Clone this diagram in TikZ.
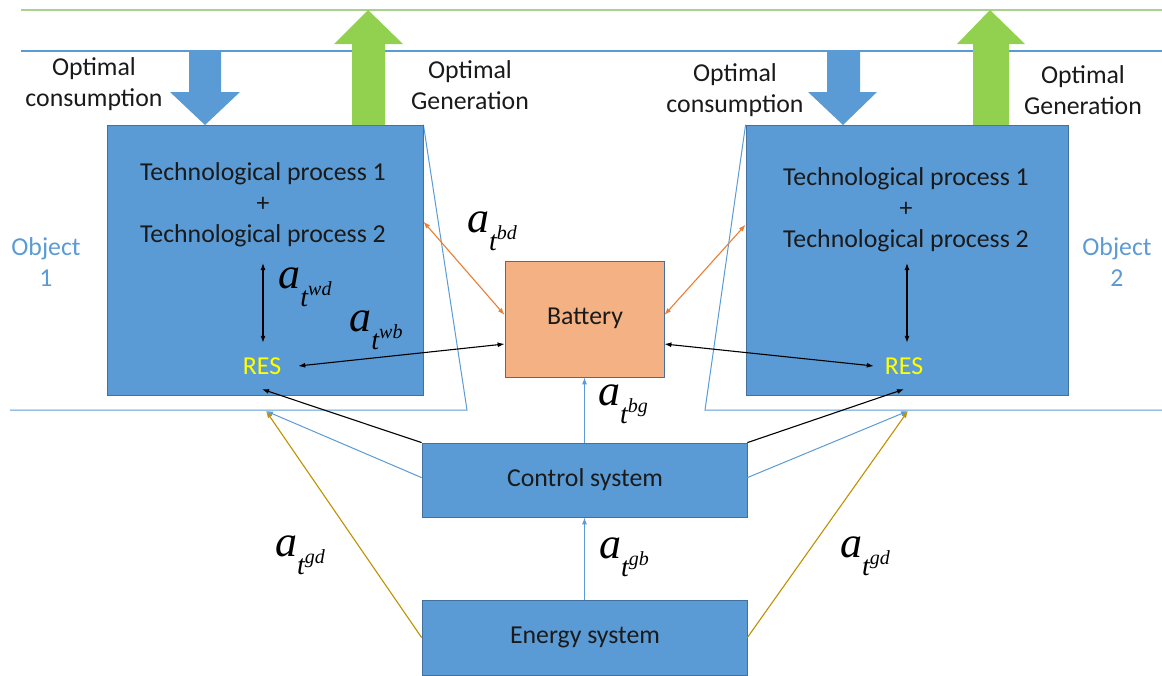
\documentclass[tikz,border=0pt]{standalone}
\usepackage{fontspec}
\setmainfont{Carlito}
\newfontfamily\lblfont{Liberation Serif}
\usetikzlibrary{arrows.meta}
\definecolor{boxblue}{HTML}{5B9BD5}
\definecolor{boxedge}{HTML}{41719C}
\definecolor{batt}{HTML}{F4B183}
\definecolor{lgreen}{HTML}{92D050}
\definecolor{topgreen}{HTML}{A9D18E}
\definecolor{orng}{HTML}{ED7D31}
\definecolor{gold}{HTML}{BF9000}
\definecolor{resyellow}{HTML}{FFFF00}
\definecolor{txtcol}{HTML}{1A1A1A}
\newcommand{\albl}[1]{{\lblfont\itshape\fontsize{44}{44}\selectfont a\raisebox{-18pt}{\fontsize{28}{28}\selectfont t\raisebox{11pt}{\fontsize{20}{20}\selectfont #1}}}}
\tikzset{
  box/.style={draw=boxedge, fill=boxblue, line width=0.8pt, inner sep=0pt},
  txt/.style={font=\fontsize{25.8}{31}\selectfont, text=txtcol, align=center, inner sep=0pt},
  restxt/.style={font=\fontsize{25.8}{31}\selectfont, text=resyellow, inner sep=0pt, minimum height=46pt},
  objtxt/.style={font=\fontsize{25.8}{31}\selectfont, text=boxblue, align=center, inner sep=0pt},
  lbl/.style={inner sep=0pt},
  thinblue/.style={draw=boxblue, line width=1pt},
  blk/.style={draw=black, line width=1.1pt},
  tip/.style={-{Latex[length=7pt,width=5pt]}},
  dtip/.style={{Latex[length=7pt,width=5pt]}-{Latex[length=7pt,width=5pt]}},
}
\begin{document}
\begin{tikzpicture}[x=1pt,y=-1pt]
\useasboundingbox (0,0) rectangle (1162,675);
% top lines
\coordinate (g0) at (21,10); \coordinate (g1) at (1162,10);
\coordinate (b0) at (21,51); \coordinate (b1) at (1162,51);
\draw[topgreen, line width=1.3pt] (g0) -- (g1);
\draw[boxblue, line width=1.3pt] (b0) -- (b1);
% boxes
\node[box, minimum width=316pt, minimum height=270pt] (obj1) at (265,260) {};
\node[box, minimum width=322pt, minimum height=270pt] (obj2) at (907,260) {};
% object outlines
\coordinate (l1) at (467,410); \coordinate (l0) at (10,410);
\coordinate (r1) at (705,410); \coordinate (r0) at (1162,410);
\draw[thinblue] (obj1.north east) -- (l1) -- (l0);
\draw[thinblue] (obj2.north west) -- (r1) -- (r0);
\node[box, minimum width=316pt, minimum height=270pt] at (265,260) {};
\node[box, minimum width=322pt, minimum height=270pt] at (907,260) {};
\node[box, fill=batt, minimum width=159pt, minimum height=116pt] (batt) at (584.5,319) {};
\node[box, minimum width=325pt, minimum height=74pt] (ctrl) at (584.5,480) {};
\node[box, minimum width=325pt, minimum height=75pt] (enrg) at (584.5,637.5) {};
% big arrows
\fill[boxblue] (189,51) -- (221,51) -- (221,92) -- (240,92) -- (205,125) -- (170,92) -- (189,92) -- cycle;
\fill[boxblue] (827,51) -- (860,51) -- (860,92) -- (877,92) -- (843,125) -- (808,92) -- (827,92) -- cycle;
\fill[lgreen] (352,125) -- (352,44) -- (334,44) -- (368,10) -- (403,44) -- (385,44) -- (385,125) -- cycle;
\fill[lgreen] (973,125) -- (973,44) -- (957,44) -- (990,10) -- (1025,44) -- (1009,44) -- (1009,125) -- cycle;
% texts
\node[txt] (oc1) at (94,84) {Optimal\\consumption};
\node[txt] (og1) at (470,85) {Optimal\\Generation};
\node[txt] (oc2) at (735,90) {Optimal\\consumption};
\node[txt] (og2) at (1083,90) {Optimal\\Generation};
\node[objtxt] (ol1) at (46,262) {Object\\1};
\node[objtxt] (ol2) at (1117,262) {Object\\2};
\node[txt] (tp1) at (263,205) {Technological process 1\\+\\Technological process 2};
\node[txt] (tp2) at (906,210) {Technological process 1\\+\\Technological process 2};
\node[txt] (battxt) at (585,318) {Battery};
\node[txt] (ctxt) at (585,480) {Control system};
\node[txt] (etxt) at (585,637) {Energy system};
\node[restxt, minimum width=72pt] (res1) at (262,366) {RES};
\node[restxt, minimum width=60pt] (res2) at (904,366) {RES};
% internal vertical arrows
\coordinate (v1) at (263,263);
\coordinate (v2) at (907,263);
\draw[blk, dtip] (v1) -- (v1 |- res1.north);
\draw[blk, dtip] (v2) -- (v2 |- res2.north);
% RES <-> battery
\draw[blk, dtip] (res1.east) -- ([yshift=-25pt]batt.west);
\draw[blk, dtip] ([yshift=-25pt]batt.east) -- (res2.west);
% orange
\draw[orng, line width=1.1pt, dtip] ([yshift=-97pt]obj1.north east) -- ([yshift=4pt]batt.west);
\draw[orng, line width=1.1pt, dtip] ([yshift=4pt]batt.east) -- ([yshift=-100pt]obj2.north west);
% control arrows
\draw[blk, tip] (ctrl.north west) -- (res1.south);
\draw[blk, tip] (ctrl.north east) -- (res2.south);
\coordinate (t1) at (266,411);
\coordinate (t2) at (908,411);
\draw[thinblue, tip] ([yshift=-35pt]ctrl.north west) -- (t1);
\draw[thinblue, tip] ([yshift=-35pt]ctrl.north east) -- (t2);
\draw[gold, line width=1.1pt, tip] (enrg.west) -- (t1);
\draw[gold, line width=1.1pt, tip] (enrg.east) -- (t2);
\draw[thinblue, tip] (ctrl.north) -- (batt.south);
\draw[thinblue, tip] (enrg.north) -- (ctrl.south);
% labels
\node[lbl] (lwd) at (305,287) {\albl{wd}};
\node[lbl] (lwb) at (376,330) {\albl{wb}};
\node[lbl] (lbd) at (492,231) {\albl{bd}};
\node[lbl] (lbg) at (623,404) {\albl{bg}};
\node[lbl] (lgd1) at (300,555) {\albl{gd}};
\node[lbl] (lgb) at (624,557) {\albl{gb}};
\node[lbl] (lgd2) at (865,556) {\albl{gd}};
\end{tikzpicture}
\end{document}
